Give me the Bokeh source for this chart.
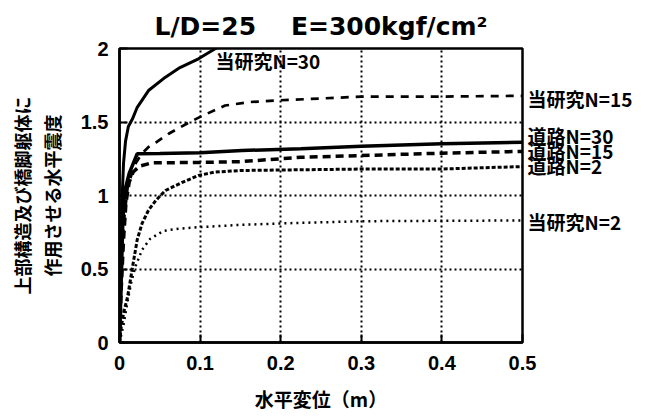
from bokeh.plotting import figure
from bokeh.models import Range1d, FixedTicker, Label, LinearAxis, AllLabels
from bokeh.embed import file_html
from bokeh.resources import INLINE

# ---- data ----
x_ticks = [0, 0.1, 0.2, 0.3, 0.4, 0.5]
x_tick_labels = ["0", "0.1", "0.2", "0.3", "0.4", "0.5"]
y_ticks = [0, 0.5, 1, 1.5, 2]
y_tick_labels = ["0", "0.5", "1", "1.5", "2"]

# 当研究 N=30 (solid)
s30_x = [0, 0.001, 0.002, 0.003, 0.005, 0.0075, 0.011, 0.016, 0.022, 0.036, 0.057, 0.075, 0.098, 0.115, 0.125]
s30_y = [0, 0.35, 0.7, 0.95, 1.22, 1.37, 1.47, 1.52, 1.60, 1.714, 1.805, 1.87, 1.93, 1.986, 2.02]
# 当研究 N=15 (dashed)
s15_x = [0, 0.002, 0.005, 0.01, 0.018, 0.027, 0.036, 0.045, 0.061, 0.084, 0.1, 0.131, 0.16, 0.2, 0.25, 0.3, 0.4, 0.5]
s15_y = [0, 0.4, 0.8, 1.05, 1.2, 1.28, 1.33, 1.36, 1.42, 1.49, 1.535, 1.612, 1.635, 1.648, 1.66, 1.673, 1.673, 1.678]
# 当研究 N=2 (dotted)
s2_x = [0, 0.005, 0.01, 0.015, 0.02, 0.028, 0.038, 0.055, 0.075, 0.1, 0.15, 0.2, 0.3, 0.4, 0.5]
s2_y = [0, 0.12, 0.28, 0.42, 0.52, 0.63, 0.705, 0.76, 0.775, 0.785, 0.80, 0.81, 0.825, 0.828, 0.83]
# 道路 N=30 (solid, heavy)
r30_x = [0, 0.002, 0.004, 0.006, 0.012, 0.022, 0.05, 0.1, 0.152, 0.225, 0.3, 0.4, 0.5]
r30_y = [0, 0.4, 0.8, 1.02, 1.15, 1.284, 1.285, 1.29, 1.306, 1.318, 1.335, 1.352, 1.363]
# 道路 N=15 (dashed, heavy)
r15_x = [0, 0.002, 0.005, 0.008, 0.012, 0.017, 0.025, 0.04, 0.1, 0.15, 0.225, 0.3, 0.4, 0.5]
r15_y = [0, 0.35, 0.7, 0.95, 1.09, 1.16, 1.2, 1.222, 1.225, 1.23, 1.26, 1.272, 1.288, 1.3]
# 道路 N=2 (dotted circles)
r2_x = [0, 0.002, 0.005, 0.01, 0.017, 0.022, 0.028, 0.036, 0.045, 0.057, 0.078, 0.098, 0.118, 0.15, 0.225, 0.3, 0.4, 0.5]
r2_y = [0, 0.1, 0.2, 0.31, 0.54, 0.7, 0.81, 0.9, 0.966, 1.034, 1.09, 1.136, 1.159, 1.17, 1.175, 1.18, 1.18, 1.197]

# curve labels at the right edge
end_label_y = [1.66, 1.408, 1.306, 1.204, 0.823]
end_label_text = ["当研究N=15", "道路N=30", "道路N=15", "道路N=2", "当研究N=2"]

title_text = "L/D=25\u00a0\u00a0\u00a0\u00a0E=300kgf/cm²"
y_label_1 = "上部構造及び橋脚躯体に"
y_label_2 = "作用させる水平震度"
x_label = "水平変位（m）"

CJK = "Noto Sans CJK JP"
LAT = "Liberation Sans"

p = figure(width=648, height=416, output_backend="svg", toolbar_location=None,
           x_range=Range1d(0, 0.5), y_range=Range1d(0, 2),
           min_border_left=119, min_border_right=126, min_border_top=48, min_border_bottom=74)
p.background_fill_color = "white"
p.border_fill_color = "white"
p.outline_line_color = "black"
p.outline_line_width = 2.5

p.title.text = title_text
p.title.align = "center"
p.title.text_font = "DejaVu Sans"
p.title.text_font_size = "25px"
p.title.text_font_style = "bold"
p.title.text_color = "black"
p.title.standoff = 15

for ax, ticks, labels in ((p.xaxis[0], x_ticks, x_tick_labels), (p.yaxis[0], y_ticks, y_tick_labels)):
    ax.ticker = FixedTicker(ticks=ticks)
    ax.major_label_overrides = {t: l for t, l in zip(ticks, labels)}
    ax.major_tick_in = 8
    ax.major_tick_out = 0
    ax.major_tick_line_width = 2
    ax.minor_tick_line_color = None
    ax.axis_line_width = 2.5
    ax.major_label_text_font = LAT
    ax.major_label_text_font_size = "20px"
    ax.major_label_text_font_style = "bold"
    ax.major_label_text_color = "black"
    ax.axis_label_text_font = CJK
    ax.axis_label_text_font_style = "bold"
    ax.axis_label_text_color = "black"
p.xaxis[0].major_label_standoff = 13
p.yaxis[0].major_label_standoff = 11

p.xaxis[0].axis_label = x_label
p.xaxis[0].axis_label_text_font_size = "19px"
p.xaxis[0].axis_label_standoff = 12

p.yaxis[0].axis_label = y_label_1 + "\n" + y_label_2
p.yaxis[0].axis_label_text_font_size = "18px"
p.yaxis[0].axis_label_text_line_height = 1.15
p.yaxis[0].axis_label_text_align = "center"
p.yaxis[0].axis_label_standoff = 13

# curve labels on the right, outside the frame
ra = LinearAxis(ticker=FixedTicker(ticks=end_label_y),
                major_label_overrides={t: l for t, l in zip(end_label_y, end_label_text)},
                major_label_policy=AllLabels(),
                major_tick_in=0, major_tick_out=0, minor_tick_line_color=None,
                axis_line_color=None, major_label_standoff=5,
                major_label_text_font=CJK, major_label_text_font_size="19px",
                major_label_text_font_style="bold", major_label_text_color="black")
p.add_layout(ra, "right")

p.xgrid.ticker = FixedTicker(ticks=x_ticks)
p.ygrid.ticker = FixedTicker(ticks=y_ticks)
for g in (p.xgrid[0], p.ygrid[0]):
    g.grid_line_color = "black"
    g.grid_line_dash = "2 3"
    g.grid_line_width = 2

p.line(r2_x, r2_y, line_color="black", line_width=3, line_dash="4 2")
p.line(s2_x, s2_y, line_color="black", line_width=2.5, line_dash="2 4")
p.line(r15_x, r15_y, line_color="black", line_width=3.5, line_dash="8 5")
p.line(r30_x, r30_y, line_color="black", line_width=3.5)
p.line(s15_x, s15_y, line_color="black", line_width=2.7, line_dash="8 7")
p.line(s30_x, s30_y, line_color="black", line_width=3)

p.add_layout(Label(x=0.119, y=1.915, text="当研究N=30", text_font=CJK, text_font_size="19px",
                   text_font_style="bold", text_color="black", text_baseline="middle"))

open("out.html", "w").write(file_html(p, INLINE))
